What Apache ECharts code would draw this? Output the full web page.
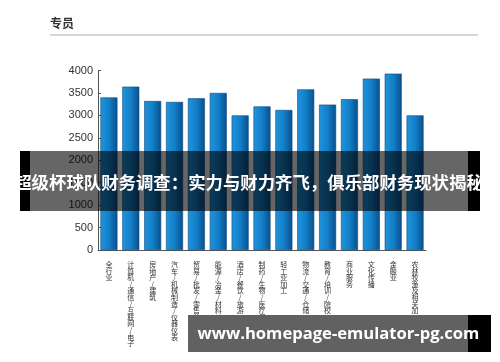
<!DOCTYPE html>
<html><head><meta charset="utf-8">
<script src="https://cdn.jsdelivr.net/npm/echarts@6/dist/echarts.min.js"></script>
<style>html,body{margin:0;padding:0;background:#fff}#c{width:500px;height:362px}</style>
</head><body><div id="c"></div>
<script>
const categories = ['全行业','计算机/通信/互联网/电子','房地产/建筑','汽车/机械制造/仪器仪表','贸易/批发/零售业','能源/冶金/材料/化工','酒店/餐饮/旅游','制药/生物/医疗保健','轻工业加工','物流/交通/仓储','教育/培训/院校','商业服务','文化传播','金融业','农林牧渔及相关加工'];
const values = [3400,3640,3320,3300,3380,3500,3000,3200,3120,3580,3240,3360,3820,3930,3000];
const yTicks = [0,500,1000,1500,2000,2500,3000,3500,4000];
const chartTitle = '专员';
const bannerText = '超级杯球队财务调查：实力与财力齐飞，俱乐部财务现状揭秘';
const watermark = 'www.homepage-emulator-pg.com';

const chart = echarts.init(document.getElementById('c'), null, {renderer:'canvas'});
const font = '"Noto Sans CJK SC", "Noto Sans", sans-serif';
chart.setOption({
  animation:false,
  backgroundColor:'#fff',
  grid:{left:98, top:70.5, right:74, bottom:112, containLabel:false},
  xAxis:{
    type:'category', data:categories,
    axisLine:{show:true, lineStyle:{color:'#555', width:1}},
    axisTick:{show:false},
    axisLabel:{interval:0, margin:11, color:'#333', fontSize:7, lineHeight:6.6, fontFamily:font, verticalAlign:'top',
      formatter:v=>v.split('').join('\n')}
  },
  yAxis:{
    type:'value', min:yTicks[0], max:yTicks[yTicks.length-1], interval:500,
    axisLine:{show:true, lineStyle:{color:'#555', width:1}},
    axisTick:{show:true, inside:true, length:3, lineStyle:{color:'#555'}},
    splitLine:{show:false},
    axisLabel:{color:'#333', fontSize:11, fontFamily:'"Liberation Sans", Arial, sans-serif', margin:5, formatter:v=>String(v)}
  },
  series:[{
    type:'bar', data:values, barWidth:17,
    itemStyle:{
      color:new echarts.graphic.LinearGradient(0,0,1,0,[
        {offset:0,color:'#1e95de'},{offset:0.5,color:'#137fc8'},{offset:1,color:'#0a4f8c'}]),
      borderColor:'#0b4a7e', borderWidth:0.6
    }
  }],
  graphic:[
    {type:'text', left:50, top:17, z:10, style:{text:chartTitle, fontSize:12, fontWeight:'bold', fill:'#333', fontFamily:font}},
    {type:'rect', z:10, shape:{x:50,y:34.5,width:428,height:1}, style:{fill:'#aaa'}},
    {type:'rect', z:100, shape:{x:20,y:151,width:460,height:60}, style:{fill:'rgba(0,0,0,0.6)'}},
    {type:'rect', z:100, shape:{x:20,y:151,width:10,height:60}, style:{fill:'#000'}},
    {type:'rect', z:100, shape:{x:468,y:151,width:12,height:60}, style:{fill:'#000'}},
    {type:'text', z:101, x:249, y:182, style:{text:bannerText, fontSize:17.4, fontWeight:'bold', fill:'#fff', fontFamily:font, align:'center', verticalAlign:'middle'}},
    {type:'rect', z:100, shape:{x:188,y:315,width:280,height:37}, style:{fill:'#616161'}},
    {type:'rect', z:100, shape:{x:468,y:315,width:23,height:37}, style:{fill:'#000'}},
    {type:'text', z:101, x:338.5, y:334, style:{text:watermark, fontSize:16.6, fontWeight:'bold', fill:'#fff', fontFamily:'"Open Sans", sans-serif', align:'center', verticalAlign:'middle'}}
  ]
});
</script></body></html>
